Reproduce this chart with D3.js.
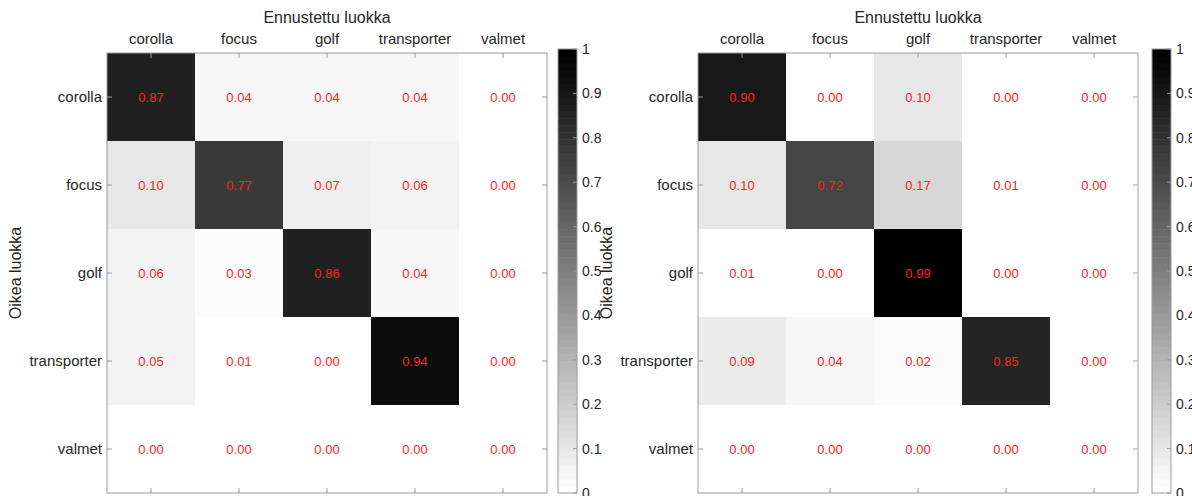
<!DOCTYPE html>
<html>
<head>
<meta charset="utf-8">
<script src="https://cdn.jsdelivr.net/npm/d3@7"></script>
<style>
  body { margin: 0; background: #fff; }
  svg { display: block; font-family: "Liberation Sans", Arial, sans-serif; }
  .lbl { fill: #262626; }
  .cell-text { fill: #ff2020; font-size: 13px; }
</style>
</head>
<body>
<svg id="chart"></svg>
<script>
// classes (same for predicted and true)
const classes = ['corolla', 'focus', 'golf', 'transporter', 'valmet'];

// left confusion matrix, rows = true class
const leftValues = [
  [0.87, 0.04, 0.04, 0.04, 0.00],
  [0.10, 0.77, 0.07, 0.06, 0.00],
  [0.06, 0.03, 0.86, 0.04, 0.00],
  [0.05, 0.01, 0.00, 0.94, 0.00],
  [0.00, 0.00, 0.00, 0.00, 0.00]
];

// right confusion matrix
const rightValues = [
  [0.90, 0.00, 0.10, 0.00, 0.00],
  [0.10, 0.72, 0.17, 0.01, 0.00],
  [0.01, 0.00, 0.99, 0.00, 0.00],
  [0.09, 0.04, 0.02, 0.85, 0.00],
  [0.00, 0.00, 0.00, 0.00, 0.00]
];

const colorbarTicks = [0, 0.1, 0.2, 0.3, 0.4, 0.5, 0.6, 0.7, 0.8, 0.9, 1];
const xTitle = 'Ennustettu luokka';
const yTitle = 'Oikea luokka';

const width = 1192, height = 496;
const svg = d3.select('#chart').attr('width', width).attr('height', height);

const axisColor = '#9a9a9a';
const nLevels = 64;

// flipped gray colormap with 64 steps (1 = black, 0 = white)
function grayColor(v) {
  let i = Math.floor(v * nLevels);
  i = Math.max(0, Math.min(nLevels - 1, i));
  const g = Math.round(255 * (1 - i / (nLevels - 1)));
  return d3.rgb(g, g, g).toString();
}

function drawMatrix(x0, y0, size, values) {
  const g = svg.append('g').attr('transform', `translate(${x0},${y0})`);
  const x = d3.scaleBand().domain(classes).range([0, size]);
  const y = d3.scaleBand().domain(classes).range([0, size]);

  const cells = [];
  values.forEach((row, ri) => row.forEach((v, ci) => {
    cells.push({ row: classes[ri], col: classes[ci], v });
  }));

  g.selectAll('rect.cell')
    .data(cells)
    .join('rect')
    .attr('class', 'cell')
    .attr('x', d => x(d.col))
    .attr('y', d => y(d.row))
    .attr('width', x.bandwidth())
    .attr('height', y.bandwidth())
    .attr('fill', d => grayColor(d.v));

  g.selectAll('text.cell-text')
    .data(cells)
    .join('text')
    .attr('class', 'cell-text')
    .attr('x', d => x(d.col) + x.bandwidth() / 2)
    .attr('y', d => y(d.row) + y.bandwidth() / 2)
    .attr('dy', '0.35em')
    .attr('text-anchor', 'middle')
    .text(d => d.v.toFixed(2));

  // box
  g.append('rect')
    .attr('x', 0).attr('y', 0)
    .attr('width', size).attr('height', size)
    .attr('fill', 'none')
    .attr('stroke', axisColor)
    .attr('stroke-width', 1);

  // inward ticks on all four sides
  const tl = 5;
  const ticks = g.append('g').attr('stroke', axisColor).attr('stroke-width', 1);
  classes.forEach(c => {
    const cx = x(c) + x.bandwidth() / 2;
    const cy = y(c) + y.bandwidth() / 2;
    ticks.append('line').attr('x1', cx).attr('x2', cx).attr('y1', 0).attr('y2', tl);
    ticks.append('line').attr('x1', cx).attr('x2', cx).attr('y1', size).attr('y2', size - tl);
    ticks.append('line').attr('y1', cy).attr('y2', cy).attr('x1', 0).attr('x2', tl);
    ticks.append('line').attr('y1', cy).attr('y2', cy).attr('x1', size).attr('x2', size - tl);
  });

  // x tick labels on top
  g.selectAll('text.xtick')
    .data(classes)
    .join('text')
    .attr('class', 'xtick lbl')
    .attr('x', d => x(d) + x.bandwidth() / 2)
    .attr('y', -9)
    .attr('text-anchor', 'middle')
    .style('font-size', '15px')
    .text(d => d);

  // y tick labels
  g.selectAll('text.ytick')
    .data(classes)
    .join('text')
    .attr('class', 'ytick lbl')
    .attr('x', -5)
    .attr('y', d => y(d) + y.bandwidth() / 2)
    .attr('dy', '0.35em')
    .attr('text-anchor', 'end')
    .style('font-size', '15px')
    .text(d => d);

  // titles
  g.append('text')
    .attr('class', 'lbl')
    .attr('x', size / 2)
    .attr('y', -30)
    .attr('text-anchor', 'middle')
    .style('font-size', '16px')
    .text(xTitle);

  // y title sits 86px left of the axes (overlaps the neighbouring colorbar on the right plot)
  g.append('text')
    .attr('class', 'lbl')
    .attr('transform', `translate(-86,${size / 2}) rotate(-90)`)
    .attr('text-anchor', 'middle')
    .style('font-size', '16px')
    .text(yTitle);
}

function drawColorbar(x0, y0, w, h) {
  const g = svg.append('g').attr('transform', `translate(${x0},${y0})`);
  const cy = d3.scaleLinear().domain([0, 1]).range([h, 0]);
  const levels = d3.range(nLevels);

  g.selectAll('rect.band')
    .data(levels)
    .join('rect')
    .attr('class', 'band')
    .attr('x', 0)
    .attr('width', w)
    .attr('y', i => cy((i + 1) / nLevels))
    .attr('height', h / nLevels + 0.5)
    .attr('fill', i => grayColor((i + 0.5) / nLevels));

  g.append('rect')
    .attr('width', w).attr('height', h)
    .attr('fill', 'none')
    .attr('stroke', axisColor);

  g.selectAll('line.cbtick')
    .data(colorbarTicks)
    .join('line')
    .attr('class', 'cbtick')
    .attr('x1', w).attr('x2', w - 4)
    .attr('y1', d => cy(d)).attr('y2', d => cy(d))
    .attr('stroke', axisColor);

  g.selectAll('text.cblabel')
    .data(colorbarTicks)
    .join('text')
    .attr('class', 'cblabel lbl')
    .attr('x', w + 5)
    .attr('y', d => cy(d))
    .attr('dy', '0.35em')
    .style('font-size', '14px')
    .text(d => d);
}

drawColorbar(558, 49, 19, 444);
drawColorbar(1152, 49, 19, 444);
drawMatrix(107, 53, 440, leftValues);
drawMatrix(698, 53, 440, rightValues);
</script>
</body>
</html>
